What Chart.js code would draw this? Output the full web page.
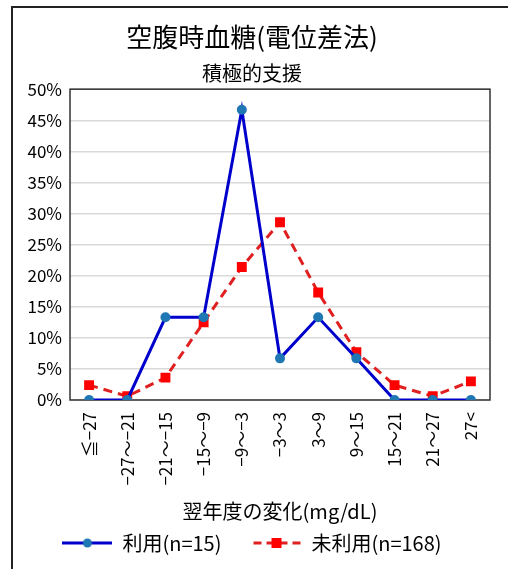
<!DOCTYPE html>
<html>
<head>
<meta charset="utf-8">
<script src="https://cdn.jsdelivr.net/npm/chart.js@4"></script>
<style>
  html, body { margin: 0; padding: 0; background: #fff; }
  #wrap { width: 508px; height: 569px; position: relative; }
</style>
</head>
<body>
<div id="wrap"><canvas id="chart"></canvas></div>
<script>
// categories (翌年度の変化 mg/dL)
const categories = ['≦−27', '−27〜−21', '−21〜−15', '−15〜−9', '−9〜−3', '−3〜3', '3〜9', '9〜15', '15〜21', '21〜27', '27<'];
// percentages
const usedValues = [0, 0, 13.3, 13.3, 46.7, 6.7, 13.3, 6.7, 0, 0, 0];
const unusedValues = [2.4, 0.6, 3.6, 12.5, 21.4, 28.6, 17.3, 7.7, 2.4, 0.6, 3.0];
const yTicks = [0, 5, 10, 15, 20, 25, 30, 35, 40, 45, 50];

const FONT = '"Noto Sans CJK JP", "Noto Sans", sans-serif';
const BLUE_LINE = '#0000CC';
const BLUE_MARK = '#1F77B4';
const RED_LINE = '#E02020';
const RED_MARK = '#FF0000';

// legend sample images (line + marker)
const makeSample = (lineColor, markColor, dashed, square) => {
    const c = document.createElement('canvas');
    c.width = 50; c.height = 12;
    const g = c.getContext('2d');
    g.strokeStyle = lineColor;
    g.lineWidth = 3;
    if (dashed) g.setLineDash([8, 5]);
    g.beginPath(); g.moveTo(dashed ? 2 : 0, 6); g.lineTo(50, 6); g.stroke();
    g.fillStyle = markColor;
    if (square) {
        g.fillRect(20, 1, 10, 10);
    } else {
        g.beginPath(); g.arc(25, 6, 4.5, 0, Math.PI * 2); g.fill();
    }
    return c;
};
const blueSample = makeSample(BLUE_LINE, BLUE_MARK, false, false);
const redSample = makeSample(RED_LINE, RED_MARK, true, true);

// page border (left and top) and plot box
const framePlugin = {
    id: 'frame',
    beforeDraw(chart) {
        const ctx = chart.ctx;
        ctx.save();
        ctx.strokeStyle = '#222';
        ctx.lineWidth = 2;
        ctx.beginPath();
        ctx.moveTo(12, 569); ctx.lineTo(12, 7); ctx.lineTo(508, 7);
        ctx.stroke();
        ctx.restore();
    },
    beforeDatasetsDraw(chart) {
        const { ctx, chartArea: a } = chart;
        ctx.save();
        ctx.strokeStyle = '#333';
        ctx.lineWidth = 1.5;
        ctx.strokeRect(a.left, a.top, a.right - a.left, a.bottom - a.top);
        ctx.restore();
    }
};

const ctx = document.getElementById('chart').getContext('2d');
new Chart(ctx, {
    type: 'line',
    data: {
        labels: categories,
        datasets: [
            {
                label: '利用(n=15)',
                data: usedValues,
                borderColor: BLUE_LINE,
                backgroundColor: BLUE_MARK,
                borderWidth: 3,
                pointStyle: 'circle',
                pointRadius: 5,
                pointBorderWidth: 0,
                pointBackgroundColor: BLUE_MARK,
                tension: 0
            },
            {
                label: '未利用(n=168)',
                data: unusedValues,
                borderColor: RED_LINE,
                backgroundColor: RED_MARK,
                borderWidth: 3,
                borderDash: [9, 6],
                pointStyle: 'rect',
                pointRadius: 7,
                pointBorderWidth: 0,
                pointBackgroundColor: RED_MARK,
                tension: 0
            }
        ]
    },
    options: {
        responsive: true,
        maintainAspectRatio: false,
        animation: false,
        layout: { padding: { left: 14, right: 18, top: 22, bottom: 6 } },
        plugins: {
            title: {
                display: true,
                text: '空腹時血糖(電位差法)',
                color: '#000',
                font: { family: FONT, size: 26, weight: 'normal' },
                padding: { top: 0, bottom: 8 }
            },
            subtitle: {
                display: true,
                text: '積極的支援',
                color: '#000',
                font: { family: FONT, size: 20, weight: 'normal' },
                padding: { top: 0, bottom: 4 }
            },
            legend: {
                position: 'bottom',
                labels: {
                    usePointStyle: true,
                    pointStyleWidth: 50,
                    color: '#000',
                    font: { family: FONT, size: 20 },
                    padding: 10,
                    // extra ideographic space widens the gap between the two items
                    generateLabels: (chart) => chart.data.datasets.map((ds, i) => ({
                        text: i === 0 ? ds.label + '\u3000' : ds.label,
                        pointStyle: i === 0 ? blueSample : redSample,
                        fontColor: '#000',
                        datasetIndex: i,
                        hidden: false,
                        lineWidth: 0
                    }))
                }
            },
            tooltip: { enabled: false }
        },
        scales: {
            x: {
                offset: true,
                afterFit: (axis) => { axis.height = 123; },
                grid: { display: false },
                border: { display: false },
                ticks: {
                    color: '#000',
                    font: { family: FONT, size: 17 },
                    minRotation: 90,
                    maxRotation: 90,
                    autoSkip: false,
                    padding: 4
                },
                title: {
                    display: true,
                    text: '翌年度の変化(mg/dL)',
                    color: '#000',
                    font: { family: FONT, size: 20 },
                    padding: { top: 0, bottom: 0 }
                }
            },
            y: {
                min: 0,
                max: 50,
                afterBuildTicks: (axis) => { axis.ticks = yTicks.map(v => ({ value: v })); },
                afterFit: (axis) => { axis.width = 56; },
                grid: { color: '#D9D9D9', lineWidth: 1.5, drawTicks: false },
                border: { display: false },
                ticks: {
                    color: '#000',
                    font: { family: FONT, size: 17 },
                    padding: 8,
                    callback: (v) => v + '%'
                }
            }
        }
    },
    plugins: [framePlugin]
});
</script>
</body>
</html>
